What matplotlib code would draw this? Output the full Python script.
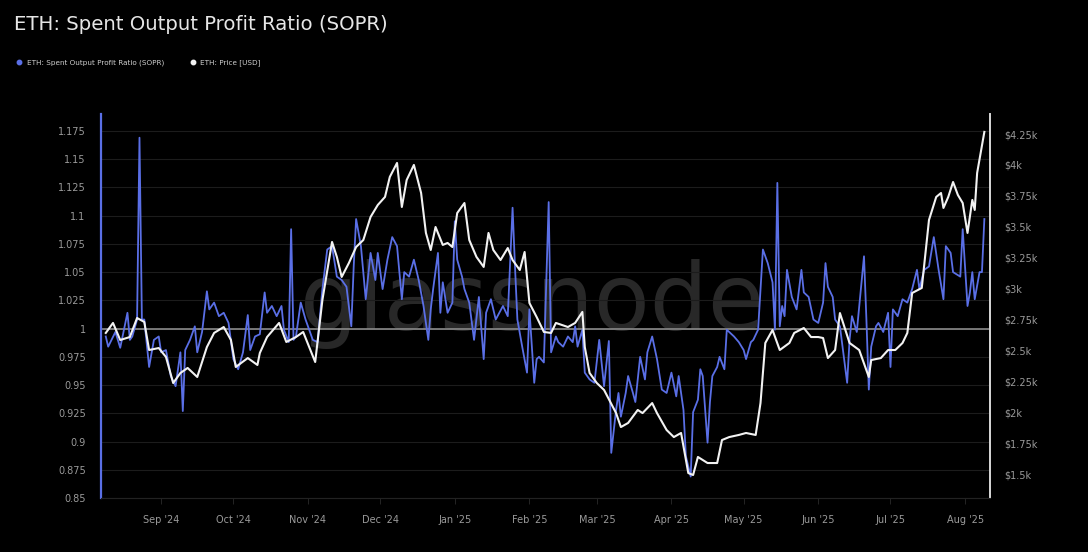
import numpy as np
import pandas as pd
import matplotlib
matplotlib.use("Agg")
import matplotlib.pyplot as plt
import matplotlib.dates as mdates
from matplotlib.lines import Line2D
from matplotlib.ticker import FixedLocator

# day numbers counted from 2024-08-07
START = pd.Timestamp("2024-08-07")

sopr_day = [2, 3, 6, 8, 11, 12, 13, 15, 16, 17, 18, 20, 22, 24, 25, 27, 29, 31, 33, 34,
            35, 37, 39, 40, 42, 44, 45, 47, 49, 51, 53, 55, 57, 59, 61, 62, 64, 66, 68, 69,
            71, 73, 75, 76, 78, 79, 80, 81, 83, 85, 88, 90, 92, 94, 96, 98, 100, 102, 104, 105,
            106, 108, 110, 112, 114, 115, 117, 119, 121, 123, 125, 126, 128, 130, 132, 134, 136, 137, 138, 140,
            141, 142, 144, 146, 147, 148, 150, 151, 153, 155, 157, 159, 160, 162, 164, 167, 169, 171, 172, 173,
            175, 177, 178, 180, 181, 182, 184, 186, 187, 189, 190, 192, 194, 196, 197, 198, 200, 201, 203, 205,
            207, 209, 211, 212, 214, 215, 216, 218, 219, 221, 222, 224, 226, 227, 229, 231, 233, 235, 237, 239,
            240, 242, 243, 245, 246, 248, 249, 250, 252, 253, 254, 256, 257, 259, 260, 261, 263, 265, 267, 268,
            270, 271, 273, 275, 277, 279, 280, 281, 282, 283, 284, 285, 287, 289, 291, 292, 294, 296, 298, 300,
            301, 302, 304, 305, 307, 310, 311, 312, 314, 317, 318, 319, 320, 322, 323, 325, 327, 328, 329, 331,
            333, 335, 337, 339, 340, 342, 344, 346, 348, 350, 351, 353, 354, 357, 358, 360, 361, 362, 363, 365,
            366, 367]
sopr_val = [0.993, 0.984, 0.997, 0.983, 1.014, 0.990, 0.993, 1.008, 1.169, 1.008, 1.008, 0.966, 0.990, 0.993, 0.979, 0.981, 0.958, 0.949, 0.979, 0.927,
            0.981, 0.990, 1.002, 0.979, 0.997, 1.033, 1.017, 1.023, 1.011, 1.014, 1.005, 0.973, 0.964, 0.979, 1.012, 0.981, 0.993, 0.995, 1.032, 1.014,
            1.020, 1.011, 1.020, 0.999, 0.988, 1.088, 0.990, 0.993, 1.023, 1.008, 0.990, 0.988, 1.035, 1.070, 1.073, 1.046, 1.043, 1.037, 1.002, 1.055,
            1.097, 1.073, 1.026, 1.067, 1.043, 1.067, 1.035, 1.061, 1.081, 1.073, 1.026, 1.050, 1.046, 1.061, 1.043, 1.020, 0.990, 1.017, 1.035, 1.067,
            1.014, 1.041, 1.014, 1.023, 1.095, 1.061, 1.046, 1.035, 1.023, 0.990, 1.028, 0.973, 1.014, 1.026, 1.008, 1.020, 1.011, 1.107, 1.055, 1.008,
            0.984, 0.961, 1.017, 0.952, 0.973, 0.975, 0.970, 1.112, 0.979, 0.993, 0.988, 0.984, 0.993, 0.988, 1.002, 0.984, 0.999, 0.961, 0.955, 0.952,
            0.990, 0.949, 0.989, 0.890, 0.928, 0.943, 0.922, 0.943, 0.958, 0.943, 0.935, 0.975, 0.955, 0.979, 0.993, 0.973, 0.946, 0.943, 0.961, 0.940,
            0.958, 0.928, 0.887, 0.869, 0.926, 0.937, 0.964, 0.958, 0.899, 0.935, 0.958, 0.966, 0.975, 0.964, 0.999, 0.997, 0.993, 0.988, 0.981, 0.973,
            0.988, 0.990, 0.999, 1.070, 1.058, 1.041, 0.999, 1.129, 1.002, 1.020, 1.011, 1.052, 1.028, 1.017, 1.052, 1.032, 1.028, 1.008, 1.005, 1.023,
            1.058, 1.037, 1.028, 1.008, 1.002, 0.952, 0.990, 1.011, 0.997, 1.064, 1.008, 0.946, 0.984, 1.002, 1.005, 0.997, 1.014, 0.966, 1.017, 1.011,
            1.026, 1.023, 1.035, 1.052, 1.035, 1.052, 1.055, 1.081, 1.052, 1.026, 1.073, 1.067, 1.050, 1.046, 1.088, 1.020, 1.032, 1.050, 1.026, 1.050,
            1.050, 1.097]

price_day = [2, 5, 8, 12, 15, 18, 20, 24, 27, 30, 33, 36, 40, 44, 47, 51, 54, 56, 61, 65,
             66, 69, 74, 77, 81, 84, 87, 89, 92, 96, 98, 100, 103, 106, 109, 112, 115, 118, 120, 123,
             125, 127, 130, 133, 135, 137, 139, 142, 144, 146, 148, 151, 153, 156, 159, 161, 163, 166, 169, 171,
             174, 176, 178, 181, 184, 187, 189, 194, 197, 200, 201, 203, 206, 209, 214, 216, 219, 223, 225, 229,
             231, 235, 238, 241, 244, 246, 248, 252, 256, 258, 261, 265, 268, 272, 274, 276, 279, 282, 286, 288,
             292, 295, 298, 300, 302, 305, 307, 311, 315, 319, 320, 324, 327, 330, 333, 335, 337, 341, 343, 344,
             347, 349, 350, 352, 354, 356, 358, 360, 362, 363, 364, 367]
price_val = [2641, 2722, 2584, 2608, 2762, 2730, 2503, 2519, 2447, 2236, 2317, 2358, 2285, 2527, 2641, 2689, 2584, 2366, 2438, 2382,
             2479, 2608, 2722, 2568, 2608, 2649, 2503, 2406, 2908, 3377, 3256, 3094, 3207, 3336, 3393, 3579, 3676, 3741, 3903, 4016,
             3660, 3878, 4000, 3773, 3450, 3312, 3498, 3353, 3369, 3336, 3611, 3692, 3393, 3256, 3175, 3450, 3312, 3231, 3328, 3231,
             3150, 3296, 2883, 2770, 2649, 2641, 2722, 2689, 2722, 2811, 2527, 2317, 2236, 2180, 1993, 1880, 1913, 2018, 1993, 2074,
             1993, 1856, 1799, 1832, 1508, 1492, 1638, 1589, 1589, 1775, 1799, 1816, 1832, 1816, 2074, 2560, 2665, 2503, 2560, 2641,
             2681, 2608, 2608, 2600, 2438, 2503, 2802, 2560, 2503, 2285, 2422, 2438, 2503, 2503, 2560, 2641, 2964, 3005, 3369, 3555,
             3741, 3773, 3652, 3741, 3862, 3757, 3692, 3450, 3717, 3636, 3935, 4267]

left_ticks = [0.85, 0.875, 0.9, 0.925, 0.95, 0.975, 1, 1.025, 1.05, 1.075, 1.1, 1.125, 1.15, 1.175]
left_labels = ["0.85", "0.875", "0.9", "0.925", "0.95", "0.975", "1", "1.025", "1.05", "1.075",
               "1.1", "1.125", "1.15", "1.175"]
right_ticks = [1500, 1750, 2000, 2250, 2500, 2750, 3000, 3250, 3500, 3750, 4000, 4250]
right_labels = ["$1.5k", "$1.75k", "$2k", "$2.25k", "$2.5k", "$2.75k", "$3k", "$3.25k",
                "$3.5k", "$3.75k", "$4k", "$4.25k"]

BLUE = "#5a6fe6"
WHITE = "#f2f2f2"
TICKC = "#9a9a9a"

sopr_dates = START + pd.to_timedelta(sopr_day, unit="D")
price_dates = START + pd.to_timedelta(price_day, unit="D")

fig = plt.figure(figsize=(10.88, 5.52), dpi=100, facecolor="black")
ax = fig.add_axes([0.0928, 0.0978, 0.8171, 0.6957], facecolor="black")
ax2 = ax.twinx()

ax.text(0.485, 0.4375, "glassnode", transform=ax.transAxes, ha="center", va="baseline",
        fontsize=66, color="#282828", zorder=0)

for t in left_ticks:
    ax.axhline(t, color="#1c1c1c", lw=0.8, zorder=1)
ax.axhline(1.0, color="#8a8a8a", lw=1.2, zorder=2)

ax.plot(sopr_dates, sopr_val, color=BLUE, lw=1.3, zorder=3)
ax2.plot(price_dates, price_val, color=WHITE, lw=1.5, zorder=4)

ax.set_ylim(0.85, 1.19)
ax2.set_ylim(1306, 4412)
ax.set_xlim(START, pd.Timestamp("2025-08-11 08:00"))

ax.yaxis.set_major_locator(FixedLocator(left_ticks))
ax.set_yticklabels(left_labels)
ax2.yaxis.set_major_locator(FixedLocator(right_ticks))
ax2.set_yticklabels(right_labels)

ax.xaxis.set_major_locator(mdates.MonthLocator())
ax.xaxis.set_major_formatter(mdates.DateFormatter("%b '%y"))

ax.tick_params(axis="y", colors=TICKC, labelsize=7, length=0, pad=11)
ax2.tick_params(axis="y", colors=TICKC, labelsize=7, length=0, pad=10)
ax.tick_params(axis="x", colors=TICKC, labelsize=7, length=4, width=0.6, pad=8,
               color="#2a2a2a")

for a in (ax, ax2):
    a.spines["top"].set_visible(False)
    a.spines["bottom"].set_color("#222222")
    a.spines["left"].set_visible(False)
    a.spines["right"].set_visible(False)
ax2.spines["left"].set_visible(True)
ax2.spines["left"].set_color(BLUE)
ax2.spines["left"].set_linewidth(1.6)
ax2.spines["right"].set_visible(True)
ax2.spines["right"].set_color("#d8d8d8")
ax2.spines["right"].set_linewidth(1.4)

fig.text(0.013, 0.955, "ETH: Spent Output Profit Ratio (SOPR)", color="#e6e6e6",
         fontsize=14.2, va="center", ha="left")

fig.add_artist(Line2D([0.0175], [0.887], marker="o", color=BLUE, markersize=3.2,
                      transform=fig.transFigure))
fig.text(0.025, 0.887, "ETH: Spent Output Profit Ratio (SOPR)", color="#cfcfcf",
         fontsize=5.2, va="center", ha="left")
fig.add_artist(Line2D([0.1775], [0.887], marker="o", color=WHITE, markersize=3.2,
                      transform=fig.transFigure))
fig.text(0.184, 0.887, "ETH: Price [USD]", color="#cfcfcf",
         fontsize=5.2, va="center", ha="left")

fig.savefig("out.png", dpi=100, facecolor="black")
